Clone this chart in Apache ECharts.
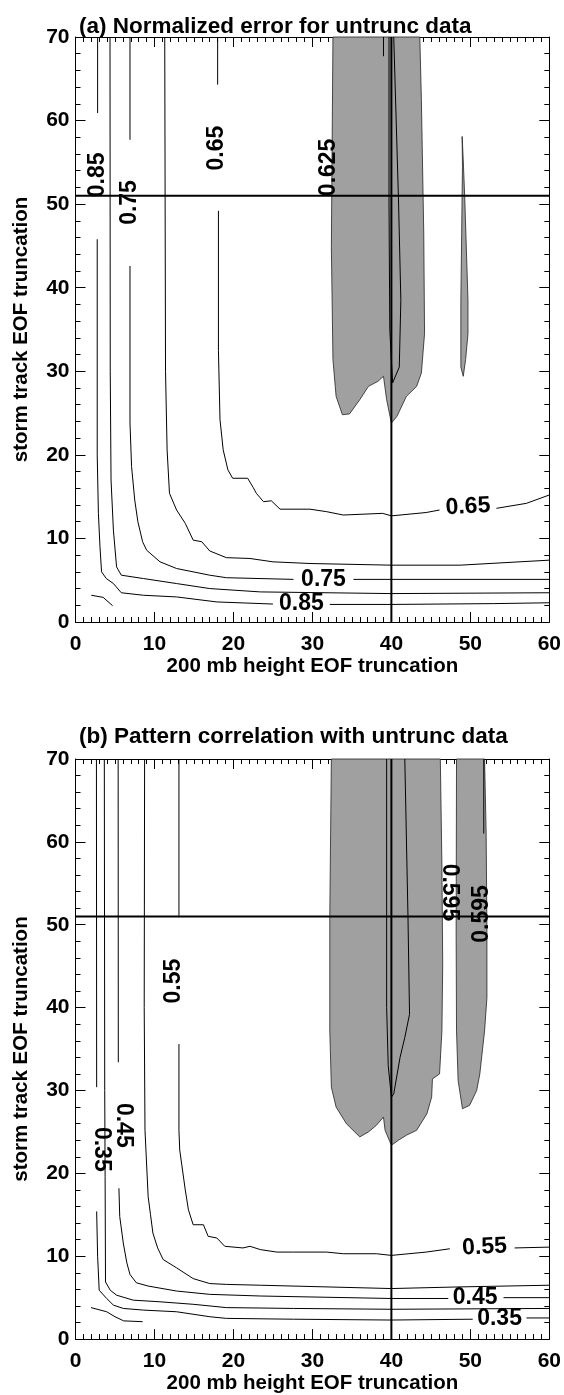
<!DOCTYPE html>
<html>
<head>
<meta charset="utf-8">
<script src="https://cdn.jsdelivr.net/npm/echarts@6/dist/echarts.min.js"></script>
<style>
  html, body { margin: 0; padding: 0; background: #fff; }
  #chart { width: 564px; height: 1395px; }
</style>
</head>
<body>
<div id="chart"></div>
<script>
// reference lines (truncation chosen)
var refX = 40
var refY = 51

// ---- panel (a) normalized error: contour segments [x, y] ----
var a090 = [[[2.0, 3.2], [3.5, 2.95], [4.7, 1.95]]]
var a085 = [
  [[2.8, 70], [2.8, 60.9]],
  [[2.75, 45.8], [2.75, 20], [2.9, 13], [3.1, 9], [3.3, 6.0], [3.9, 5.2], [4.8, 4.6], [5.8, 3.5], [8.6, 3.2], [12.8, 3.0], [17.9, 2.4], [25.0, 2.15]],
  [[32.2, 2.1], [40, 2.1], [52.9, 2.2], [60, 2.3]]
]
var a080 = [
  [[4.37, 70], [4.4, 30], [4.5, 17], [4.8, 11], [5.2, 6.6], [5.8, 5.6], [8.6, 5.2], [12.8, 4.6], [17.0, 4.0], [23.4, 3.6], [40, 3.4], [60, 3.5]]
]
var a075 = [
  [[6.9, 70], [6.9, 57.7]],
  [[6.9, 42.6], [6.9, 23.8], [7.1, 18.6], [7.5, 14.6], [7.9, 12], [8.5, 9.6], [9.0, 8.6], [10.7, 7.2], [12.8, 6.4], [17.0, 5.6], [19.1, 5.3], [27.6, 5.1]],
  [[35.2, 5.1], [60, 5.1]]
]
var a070 = [
  [[11.3, 70], [11.4, 30], [11.6, 20.6], [11.9, 15.4], [12.8, 13.4], [13.9, 11.8], [14.9, 9.8], [16.0, 9.6], [17.0, 8.5], [19.1, 7.7], [22.1, 7.6], [25.0, 7.2], [29.7, 7.0], [40, 6.8], [48.7, 6.8], [60, 7.4]]
]
var a065 = [
  [[18.0, 70], [18.0, 64.3]],
  [[18.1, 49.2], [18.1, 32.5], [18.3, 24.2], [18.7, 20.6], [19.3, 18.2], [19.9, 17.2], [21.8, 17.2], [22.5, 16.1], [22.9, 15.4], [23.8, 14.4], [24.8, 14.5], [25.9, 13.5], [29.7, 13.5], [31.8, 13.2], [33.9, 12.8], [38.9, 13.0], [40, 12.7], [44.4, 13.1], [46.1, 13.4]],
  [[53.3, 13.6], [57.1, 14.2], [60, 15.2]]
]
var a0625inner = [
  [[39.7, 70], [39.7, 50], [39.8, 35], [40.15, 28.6], [41.0, 30.5], [41.2, 38.5], [40.9, 50.5], [40.3, 70]],
  [[39.0, 70], [39.0, 67.7]]
]
// shaded regions below 0.625
var a0625area = [[32.6, 70], [32.4, 44.9], [32.6, 31.4], [33.0, 27.0], [33.8, 24.8], [34.7, 24.9], [36.0, 26.6], [37.1, 28.2], [38.3, 28.8], [39.0, 29.4], [39.4, 26.6], [40.0, 23.8], [40.7, 24.6], [41.9, 27.0], [43.2, 28.2], [43.8, 29.8], [44.2, 34.5], [44.1, 46.5], [43.8, 62.5], [43.6, 70]]
var a0625sliver = [[48.96, 58.1], [49.1, 55.3], [49.3, 50.5], [49.5, 44.5], [49.7, 38.5], [49.7, 34.5], [49.4, 31.4], [49.1, 29.4], [48.8, 30.5], [48.8, 38.5], [48.9, 46.5], [49.0, 54.5]]
// contour labels: text, x, y, turn
var labelsA = [
  ['0.85', 2.8, 53.5, 90],
  ['0.75', 6.9, 50.2, 90],
  ['0.65', 17.9, 56.7, 90],
  ['0.625', 32.0, 54.4, 90],
  ['0.85', 28.6, 2.2, 0],
  ['0.75', 31.4, 5.1, 0],
  ['0.65', 49.7, 13.8, 3]
]

// ---- panel (b) pattern correlation ----
var b030 = [[[1.96, 3.8], [3.95, 3.3], [5.0, 2.7], [6.1, 2.2], [8.5, 2.1]]]
var b035 = [
  [[2.65, 70], [2.68, 30.4]],
  [[2.68, 15.4], [2.8, 10], [3.0, 5.9], [3.95, 4.9], [4.8, 4.1], [6.05, 3.7], [8.6, 3.5], [12.8, 3.3], [17.0, 2.7], [19.1, 2.5], [27.6, 2.4], [40, 2.3], [50.3, 2.4]],
  [[57.1, 2.55], [60, 2.55]]
]
var b040 = [
  [[3.65, 70], [3.7, 30], [3.75, 19.6], [3.8, 6.9], [4.4, 5.9], [5.2, 5.3], [7.3, 4.7], [10.7, 4.5], [14.9, 4.2], [19.1, 3.8], [27.6, 3.7], [40, 3.6], [60, 3.7]]
]
var b045 = [
  [[5.4, 70], [5.42, 33.4]],
  [[5.5, 18.2], [5.6, 14.8], [6.05, 11.6], [6.5, 9.2], [6.9, 7.8], [7.7, 6.8], [9.2, 6.4], [12.8, 5.8], [17.0, 5.4], [23.4, 5.2], [40, 4.9], [47.2, 4.9]],
  [[54.2, 5.0], [60, 5.0]]
]
var b050 = [
  [[8.75, 70], [8.7, 40], [8.8, 25.2], [9.2, 17.2], [9.5, 15], [9.8, 12.8], [10.4, 11], [11.1, 9.6], [12.8, 8.6], [14.9, 7.3], [17.0, 6.7], [19.1, 6.6], [23.4, 6.5], [40, 6.1], [48.7, 6.3], [60, 6.5]]
]
var b055 = [
  [[13.1, 70], [13.1, 50.9]],
  [[13.1, 35.6], [13.1, 25.2], [13.2, 22.8], [13.9, 18.0], [14.3, 15.6], [14.9, 13.8], [16.2, 13.8], [16.8, 12.4], [17.9, 12.2], [18.9, 11.2], [21.2, 11.0], [22.1, 11.2], [23.4, 10.8], [25.5, 10.5], [27.6, 10.5], [31.8, 10.5], [33.9, 10.3], [38.1, 10.3], [40, 10.1], [44.4, 10.5], [47.4, 10.9]],
  [[55.6, 11.0], [60, 11.1]]
]
var b0595inner = [
  [[39.4, 70], [39.4, 40], [39.6, 33], [40.0, 29.2], [40.3, 29.6], [41.1, 34.0], [41.7, 36.4], [42.3, 39.2], [42.1, 51.1], [41.7, 70]],
  [[51.7, 70], [51.7, 61]]
]
// shaded regions above 0.595
var b0595area = [[32.4, 70], [32.2, 51.1], [32.2, 37.2], [32.4, 30.4], [33.0, 28.0], [34.3, 26.0], [36.0, 24.4], [37.1, 25.0], [38.1, 25.8], [39.0, 26.8], [39.2, 25.2], [40.0, 23.4], [40.9, 24.0], [41.9, 24.6], [43.2, 25.2], [44.5, 27.2], [45.1, 29.2], [45.2, 31.4], [46.1, 32.0], [46.4, 37.2], [46.5, 45.2], [46.4, 57.1], [46.2, 70]]
var b0595area2 = [[48.25, 70], [48.2, 49.2], [48.25, 37.2], [48.45, 31.2], [49.0, 27.8], [49.9, 28.2], [50.8, 30.0], [51.2, 32.0], [51.8, 37.2], [52.1, 41.2], [52.1, 49.2], [52.0, 61.1], [51.8, 70]]
var labelsB = [
  ['0.35', 3.3, 22.9, -90],
  ['0.45', 6.05, 25.8, -90],
  ['0.55', 12.4, 43.2, 90],
  ['0.595', 47.3, 53.9, -90],
  ['0.595', 51.4, 51.3, 90],
  ['0.55', 51.8, 11.1, 3],
  ['0.45', 50.6, 5.0, 0],
  ['0.35', 53.7, 2.5, 0]
]

var xTicks = { min: 0, max: 60, interval: 10, minor: 10 }
var yTicks = { min: 0, max: 70, interval: 10, minor: 5 }

var FONT = 'Liberation Sans, Arial, Helvetica, sans-serif'

function lineSeries(segs, gi, width) {
  return segs.map(function (seg) {
    return {
      type: 'line',
      xAxisIndex: gi * 2,
      yAxisIndex: gi * 2,
      data: seg,
      showSymbol: false,
      symbol: 'none',
      silent: true,
      z: 3,
      lineStyle: { color: '#000', width: width || 1 }
    }
  })
}

function areaSeries(points, gi) {
  return {
    type: 'custom',
    xAxisIndex: gi * 2,
    yAxisIndex: gi * 2,
    data: points,
    silent: true,
    z: 1,
    renderItem: function (params, api) {
      if (params.dataIndex !== 0) return
      var pts = points.map(function (p) { return api.coord(p) })
      return {
        type: 'polygon',
        shape: { points: pts },
        style: { fill: '#a0a0a0', stroke: '#222', lineWidth: 0.8 }
      }
    }
  }
}

function labelSeries(list, gi) {
  return {
    type: 'scatter',
    xAxisIndex: gi * 2,
    yAxisIndex: gi * 2,
    symbolSize: 0,
    silent: true,
    z: 5,
    itemStyle: { opacity: 1, color: '#000' },
    data: list.map(function (l) {
      return {
        value: [l[1], l[2]],
        label: {
          show: true,
          position: 'inside',
          formatter: l[0],
          rotate: l[3],
          color: '#000',
          opacity: 1,
          textBorderWidth: 0,
          fontSize: 23,
          fontWeight: 'bold',
          fontFamily: FONT
        }
      }
    })
  }
}

function axisPair(gi, dim, t, name) {
  var base = {
    gridIndex: gi,
    type: 'value',
    min: t.min,
    max: t.max,
    interval: t.interval,
    axisLine: { show: true, onZero: false, lineStyle: { color: '#000', width: 1 } },
    axisTick: { show: true, inside: true, length: 10, lineStyle: { color: '#000', width: 1 } },
    minorTick: { show: true, splitNumber: t.minor, length: 5, lineStyle: { color: '#000', width: 1 } },
    splitLine: { show: false }
  }
  var main = Object.assign({}, base, {
    position: dim === 'x' ? 'bottom' : 'left',
    axisLabel: {
      color: '#000', fontSize: 21, fontWeight: 'bold', fontFamily: FONT,
      margin: dim === 'x' ? 12 : 6
    },
    name: name,
    nameLocation: 'middle',
    nameGap: dim === 'x' ? 33 : 44,
    nameTextStyle: { color: '#000', fontSize: 20.5, fontWeight: 'bold', fontFamily: FONT }
  })
  var other = Object.assign({}, base, {
    position: dim === 'x' ? 'top' : 'right',
    axisLabel: { show: false }
  })
  return [main, other]
}

var chart = echarts.init(document.getElementById('chart'), null, { renderer: 'canvas' })

var xName = '200 mb height EOF truncation'
var yName = 'storm track EOF truncation'

var series = []
  .concat([areaSeries(a0625area, 0), areaSeries(a0625sliver, 0)])
  .concat(lineSeries(a090, 0), lineSeries(a085, 0), lineSeries(a080, 0), lineSeries(a075, 0))
  .concat(lineSeries(a070, 0), lineSeries(a065, 0), lineSeries(a0625inner, 0))
  .concat(lineSeries([[[refX, 0], [refX, 70]], [[0, refY], [60, refY]]], 0, 2))
  .concat([labelSeries(labelsA, 0)])
  .concat([areaSeries(b0595area, 1), areaSeries(b0595area2, 1)])
  .concat(lineSeries(b030, 1), lineSeries(b035, 1), lineSeries(b040, 1), lineSeries(b045, 1))
  .concat(lineSeries(b050, 1), lineSeries(b055, 1), lineSeries(b0595inner, 1))
  .concat(lineSeries([[[refX, 0], [refX, 70]], [[0, refY], [60, refY]]], 1, 2))
  .concat([labelSeries(labelsB, 1)])

chart.setOption({
  animation: false,
  backgroundColor: '#fff',
  title: [
    { text: '(a) Normalized error for untrunc data', left: 74, top: 10,
      textStyle: { color: '#000', fontSize: 22.5, fontWeight: 'bold', fontFamily: FONT } },
    { text: '(b) Pattern correlation with untrunc data', left: 74, top: 720,
      textStyle: { color: '#000', fontSize: 22.5, fontWeight: 'bold', fontFamily: FONT } }
  ],
  grid: [
    { left: 75.5, top: 37, width: 474, height: 585 },
    { left: 75.5, top: 759, width: 474, height: 585 }
  ],
  xAxis: axisPair(0, 'x', xTicks, xName).concat(axisPair(1, 'x', xTicks, xName)),
  yAxis: axisPair(0, 'y', yTicks, yName).concat(axisPair(1, 'y', yTicks, yName)),
  series: series
})
</script>
</body>
</html>
